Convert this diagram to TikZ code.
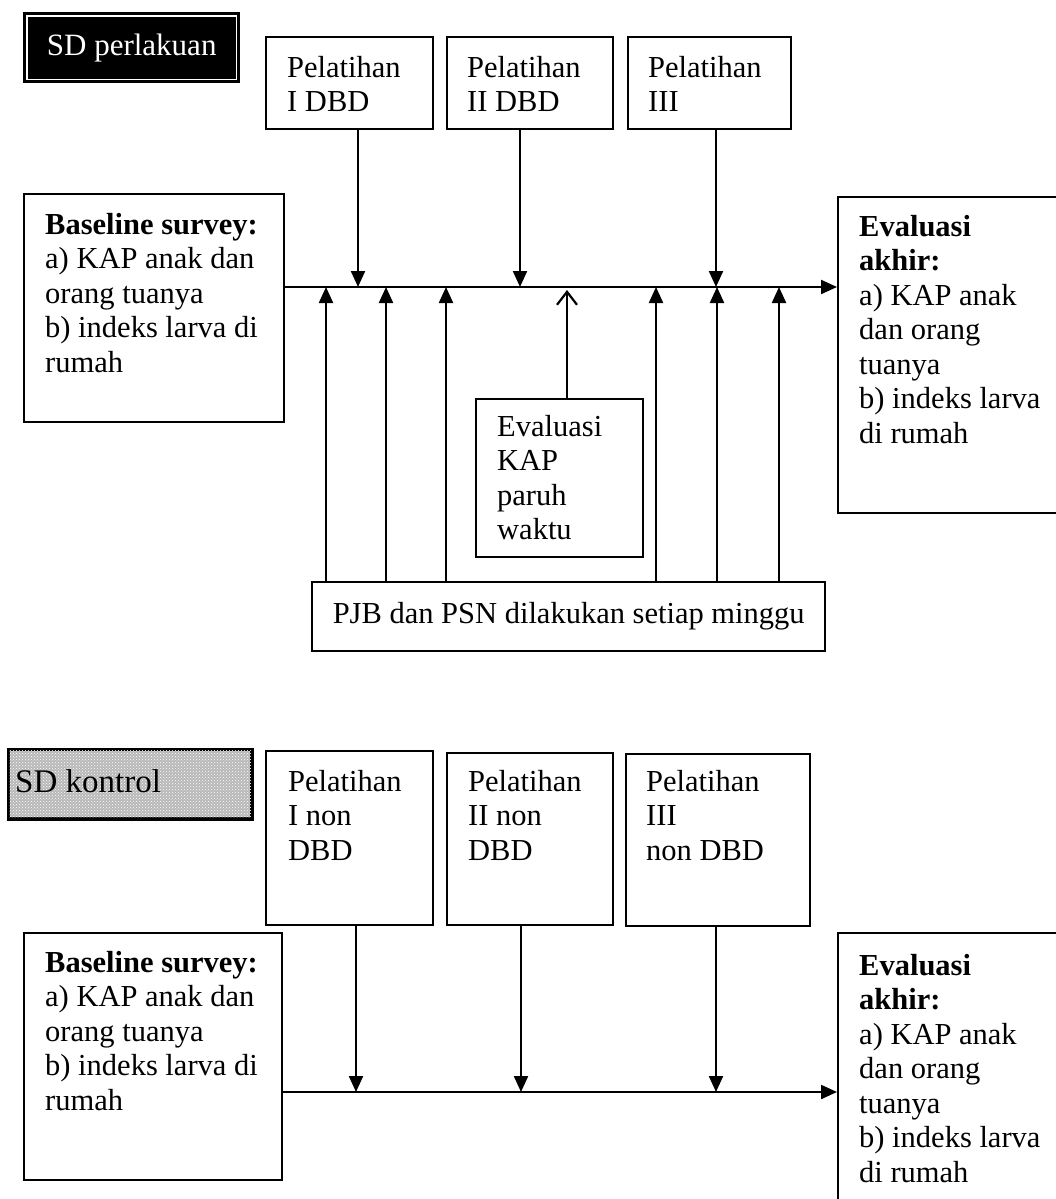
\documentclass[tikz,border=0pt]{standalone}
\usepackage{fontspec}
\setmainfont{Liberation Serif}
\usetikzlibrary{arrows.meta,patterns}
\begin{document}
\begin{tikzpicture}[x=1pt,y=-1pt,
  box/.style={draw=black, line width=2.4pt, inner sep=0pt, anchor=north west},
  txt/.style={anchor=north west, inner sep=0pt, align=left, font=\fontsize{30.5}{34.5}\selectfont},
  flow/.style={line width=2.2pt},
  tip/.style={-{Triangle[length=16pt,width=14pt]}},
  opentip/.style={-{Straight Barb[length=13pt,width=20pt,line width=2.2pt]}},
]
\path[use as bounding box, clip] (0,0) rectangle (1056,1199);
\fill[white] (0,0) rectangle (1056,1199);

% ---------------- treated school ----------------
\node[box, fill=black, minimum width=215pt, minimum height=69pt] (lblA) at (23,12) {};
\draw[white, line width=1.6pt] ([shift={(4pt,-4pt)}]lblA.north west) rectangle ([shift={(-4pt,4pt)}]lblA.south east);
\node[text=white, inner sep=0pt, font=\fontsize{31}{34.5}\selectfont] (lblAt) at (lblA.center) {SD perlakuan};

\node[box, minimum width=167pt, minimum height=92pt] (p1) at (265,36) {};
\node[box, minimum width=166pt, minimum height=92pt] (p2) at (446,36) {};
\node[box, minimum width=163pt, minimum height=92pt] (p3) at (627,36) {};
\node[txt] (p1t) at (287,53) {\strut Pelatihan\\I DBD};
\node[txt] (p2t) at (467,53) {\strut Pelatihan\\II DBD};
\node[txt] (p3t) at (648,53) {\strut Pelatihan\\III};

\node[box, minimum width=260pt, minimum height=228pt] (b1) at (23,193) {};
\node[txt] (b1t) at (45,210) {\strut\textbf{Baseline survey:}\\a) KAP anak dan\\orang tuanya\\b) indeks larva di\\rumah};

\node[box, minimum width=240pt, minimum height=316pt] (e1) at (837,196) {};
\node[txt] (e1t) at (859,212) {\strut\textbf{Evaluasi}\\\textbf{akhir:}\\a) KAP anak\\dan orang\\tuanya\\b) indeks larva\\di rumah};

\node[box, minimum width=167pt, minimum height=158pt] (k1) at (475,398) {};
\node[txt] (k1t) at (497,412) {\strut Evaluasi\\KAP\\paruh\\waktu};

\node[box, minimum width=513pt, minimum height=69pt, font=\fontsize{30.5}{34.5}\selectfont] (pjb) at (311,581) {PJB dan PSN dilakukan setiap minggu};

\coordinate (axisA) at (0,287);
\draw[flow, tip] (b1.east |- axisA) -- (e1.west |- axisA);

% training sessions feeding the time line
\foreach \n/\dx in {p1/93, p2/74, p3/89}
  \draw[flow, tip] ([xshift=\dx pt]\n.south west) -- ([xshift=\dx pt]\n.south west |- axisA);

% weekly activities
\foreach \dx in {15, 75, 135, 345, 406, 468}
  \draw[flow, tip] ([xshift=\dx pt]pjb.north west) -- ([xshift=\dx pt]pjb.north west |- axisA);

% mid-term evaluation
\draw[flow, opentip] ([xshift=92pt]k1.north west) -- ([xshift=92pt, yshift=-3pt]k1.north west |- axisA);

% ---------------- control school ----------------
\node[box, fill=black!28, minimum width=242pt, minimum height=68pt] (lblB) at (8,749) {};
\fill[pattern=crosshatch dots, pattern color=white] (lblB.north west) rectangle (lblB.south east);
\draw[line width=2.4pt] (lblB.north west) rectangle (lblB.south east);
\node[anchor=base west, inner sep=0pt, font=\fontsize{33}{34.5}\selectfont] (lblBt) at (15,792) {SD kontrol};

\node[box, minimum width=167pt, minimum height=174pt] (q1) at (265,750) {};
\node[box, minimum width=166pt, minimum height=172pt] (q2) at (446,752) {};
\node[box, minimum width=184pt, minimum height=172pt] (q3) at (625,753) {};
\node[txt] (q1t) at (288,767) {\strut Pelatihan\\I non\\DBD};
\node[txt] (q2t) at (468,767) {\strut Pelatihan\\II non\\DBD};
\node[txt] (q3t) at (646,767) {\strut Pelatihan\\III\\non DBD};

\node[box, minimum width=258pt, minimum height=247pt] (b2) at (23,932) {};
\node[txt] (b2t) at (45,948) {\strut\textbf{Baseline survey:}\\a) KAP anak dan\\orang tuanya\\b) indeks larva di\\rumah};

\node[box, minimum width=240pt, minimum height=300pt] (e2) at (837,932) {};
\node[txt] (e2t) at (859,951) {\strut\textbf{Evaluasi}\\\textbf{akhir:}\\a) KAP anak\\dan orang\\tuanya\\b) indeks larva\\di rumah};

\coordinate (axisB) at (0,1092);
\draw[flow, tip] (b2.east |- axisB) -- (e2.west |- axisB);
\foreach \n/\dx in {q1/91, q2/75, q3/91}
  \draw[flow, tip] ([xshift=\dx pt]\n.south west) -- ([xshift=\dx pt]\n.south west |- axisB);
\end{tikzpicture}
\end{document}
